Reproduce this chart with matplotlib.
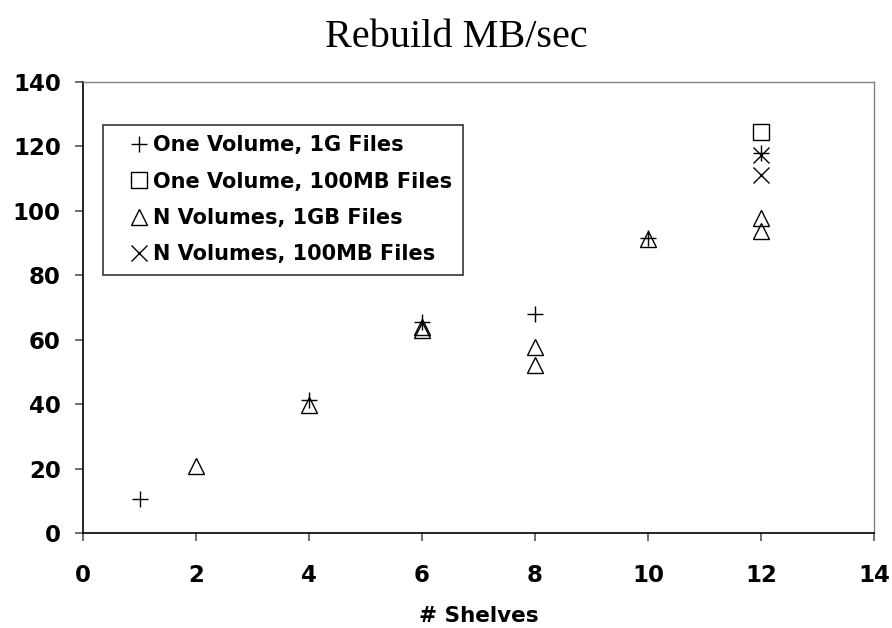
import matplotlib
matplotlib.use("Agg")
import matplotlib.pyplot as plt
from matplotlib.lines import Line2D

# Rebuild throughput (MB/sec) by number of shelves
one_vol_1g_x = [1, 4, 6, 8, 10, 12]
one_vol_1g_y = [10.6, 41.3, 65.5, 68.0, 91.6, 118.0]

one_vol_100mb_x = [12]
one_vol_100mb_y = [124.5]

n_vol_1gb_x = [2, 4, 6, 6, 8, 8, 10, 12, 12]
n_vol_1gb_y = [20.8, 39.7, 64.0, 63.0, 57.7, 52.2, 91.3, 97.8, 93.8]

n_vol_100mb_x = [12, 12]
n_vol_100mb_y = [117.4, 111.0]

series_labels = [
    "One Volume, 1G Files",
    "One Volume, 100MB Files",
    "N Volumes, 1GB Files",
    "N Volumes, 100MB Files",
]

x_ticks = [0, 2, 4, 6, 8, 10, 12, 14]
y_ticks = [0, 20, 40, 60, 80, 100, 120, 140]

SANS = "DejaVu Sans"
SERIF = "Liberation Serif"

W, H = 892, 628
fig = plt.figure(figsize=(W / 100, H / 100), dpi=100)
ax = fig.add_axes([83 / W, 1 - 533 / H, (874 - 83) / W, (533 - 82) / H])

ms = 12
mk = dict(linestyle="none", color="black", markerfacecolor="none",
          markeredgecolor="black", markeredgewidth=1.0, markersize=ms)

ax.plot(one_vol_1g_x, one_vol_1g_y, marker="+", **mk)
ax.plot(one_vol_100mb_x, one_vol_100mb_y, marker="s", **mk)
ax.plot(n_vol_1gb_x, n_vol_1gb_y, marker="^", **mk)
ax.plot(n_vol_100mb_x, n_vol_100mb_y, marker="x", **mk)

ax.set_xlim(0, 14)
ax.set_ylim(0, 140)
ax.set_xticks(x_ticks)
ax.set_yticks(y_ticks)

tick_font = dict(family=SANS, weight="bold", size=16.5)
ax.set_xticklabels([str(v) for v in x_ticks], **tick_font)
ax.set_yticklabels([str(v) for v in y_ticks], **tick_font)
ax.tick_params(axis="both", direction="out", length=6, width=1.2,
               color="#555555")
ax.tick_params(axis="x", pad=16)
ax.tick_params(axis="y", pad=10)

for side in ("left", "bottom"):
    ax.spines[side].set_color("black")
    ax.spines[side].set_linewidth(1.2)
for side in ("top", "right"):
    ax.spines[side].set_color("#808080")
    ax.spines[side].set_linewidth(1.0)

ax.set_xlabel("# Shelves", family=SANS, weight="bold", size=15.5,
              labelpad=14)

fig.text(456 / W, 1 - 47 / H, "Rebuild MB/sec", family=SERIF,
         size=29, ha="center", va="baseline")

handles = [
    Line2D([], [], marker=m, linestyle="none", markerfacecolor="none",
           markeredgecolor="black", markeredgewidth=1.0, markersize=11)
    for m in ("+", "s", "^", "x")
]
leg = ax.legend(handles, series_labels, loc="upper left",
                bbox_to_anchor=(103 / W, 1 - 125 / H),
                bbox_transform=fig.transFigure,
                prop=dict(family=SANS, weight="bold", size=15),
                frameon=True, fancybox=False, edgecolor="black",
                handlelength=2.5, handletextpad=-0.6, labelspacing=0.78,
                borderpad=0.5, borderaxespad=0)
leg.get_frame().set_linewidth(1.2)

fig.savefig("out.png", dpi=100, facecolor="white")
